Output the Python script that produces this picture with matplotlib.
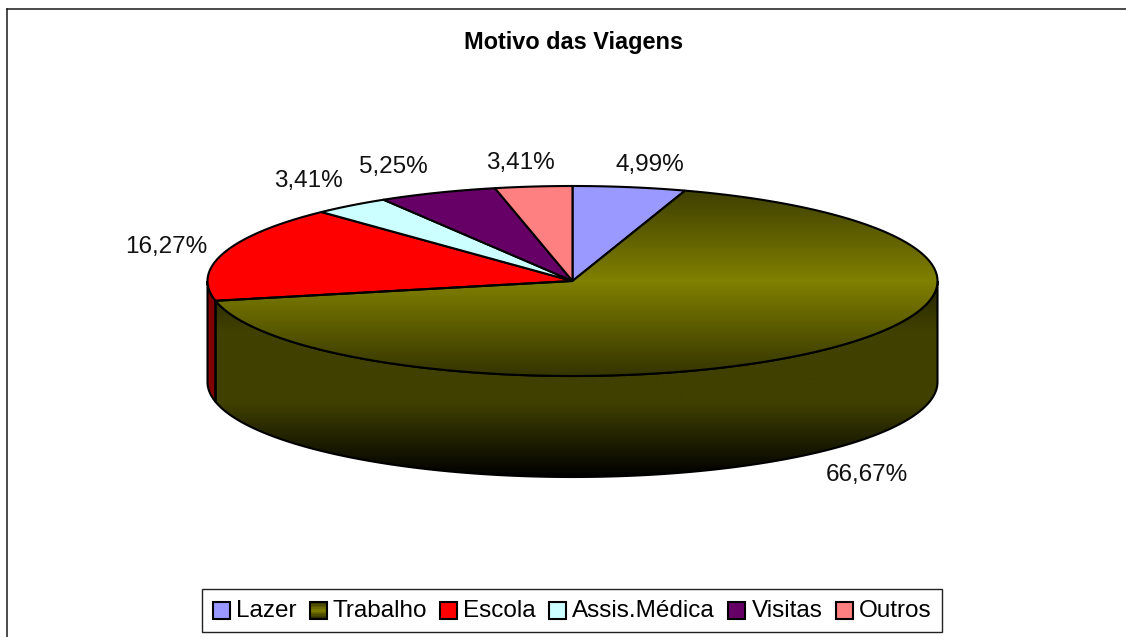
import numpy as np
import matplotlib
matplotlib.use("Agg")
import matplotlib.pyplot as plt
from matplotlib.colors import LinearSegmentedColormap, to_rgb
from matplotlib.patches import Polygon, Rectangle, Patch
from matplotlib.legend_handler import HandlerBase

plt.rcParams['font.family'] = ['Liberation Sans', 'DejaVu Sans']

title = "Motivo das Viagens"
categories = ["Lazer", "Trabalho", "Escola", "Assis.Médica", "Visitas", "Outros"]
values = [4.99, 66.67, 16.27, 3.41, 5.25, 3.41]
value_labels = ["4,99%", "66,67%", "16,27%", "3,41%", "5,25%", "3,41%"]
colors = ["#9999FF", "#808000", "#FF0000", "#CCFFFF", "#660066", "#FF8080"]
side_colors = {2: "#800000"}
label_pos = [(650, 164.5), (867, 475), (166, 246.5), (308, 181.5), (393, 167), (520, 162.5)]

W, H = 1126, 637
CX, CY, RX, RY, DEPTH = 572.5, 281, 365, 95, 101
LINE = 1.5

fig = plt.figure(figsize=(W / 100, H / 100), dpi=100, facecolor="white")
L, T = 7.5, 8.5
ax = fig.add_axes([L / W, 0, (W - L) / W, (H - T) / H])
ax.set_xlim(L, W)
ax.set_ylim(H, T)
ax.set_xticks([])
ax.set_yticks([])
for s in ("right", "bottom"):
    ax.spines[s].set_visible(False)
for s in ("top", "left"):
    ax.spines[s].set_linewidth(1.1)
    ax.spines[s].set_color("#1a1a1a")


def arc(a0, a1, n=240, dy=0):
    t = np.radians(np.linspace(a0, a1, n))
    return np.column_stack([CX + RX * np.sin(t), CY + dy - RY * np.cos(t)])


top_cmap = LinearSegmentedColormap.from_list(
    "top", [(0, "#3c3c00"), (0.5, "#808000"), (1, "#343400")])
side_cmap = LinearSegmentedColormap.from_list(
    "side", [(0, "#242400"), (0.25, "#404000"), (0.62, "#404000"), (1, "#000000")])


def shade(poly, cmap, y0, y1, x0=L, x1=W):
    grad = np.linspace(0, 1, 256).reshape(-1, 1)
    im = ax.imshow(grad, cmap=cmap, extent=(x0, x1, y1, y0), aspect="auto",
                   interpolation="bilinear", zorder=poly.get_zorder())
    im.set_clip_path(poly)


edges = np.cumsum([0] + values) * 3.6

# side walls (only the front half of the disc is visible)
for i, (a0, a1) in enumerate(zip(edges[:-1], edges[1:])):
    lo, hi = max(a0, 90), min(a1, 270)
    if lo >= hi:
        continue
    pts = np.vstack([arc(lo, hi), arc(hi, lo, dy=DEPTH)])
    if i == 1:
        clip = Polygon(pts, closed=True, transform=ax.transData, fc="none", ec="none", zorder=2)
        ax.add_patch(clip)
        shade(clip, side_cmap, CY, CY + RY + DEPTH)
        ax.add_patch(Polygon(pts, closed=True, fc="none", ec="black", lw=LINE, zorder=2.1))
    else:
        ax.add_patch(Polygon(pts, closed=True, fc=side_colors.get(i, colors[i]),
                             ec="black", lw=LINE, zorder=2))

# top faces
for i, (a0, a1) in enumerate(zip(edges[:-1], edges[1:])):
    pts = np.vstack([[(CX, CY)], arc(a0, a1)])
    if i == 1:
        clip = Polygon(pts, closed=True, transform=ax.transData, fc="none", ec="none", zorder=3)
        ax.add_patch(clip)
        shade(clip, top_cmap, CY - RY, CY + RY)
        ax.add_patch(Polygon(pts, closed=True, fc="none", ec="black", lw=LINE, zorder=3.1))
    else:
        ax.add_patch(Polygon(pts, closed=True, fc=colors[i], ec="black", lw=LINE, zorder=3))

ax.set_xlim(L, W)
ax.set_ylim(H, T)

for (x, y), s in zip(label_pos, value_labels):
    ax.text(x, y, s, ha="center", va="center", fontsize=17.5, color="#111111", zorder=5)

ax.text(574, 43, title, ha="center", va="center", fontsize=16.9, fontweight="bold",
        color="black", zorder=5)


class Swatch(HandlerBase):
    def create_artists(self, legend, orig, xd, yd, width, height, fontsize, trans):
        x, y = -xd, -yd - 1.5
        arts = []
        if orig.get_label() == "Trabalho":
            n = 12
            mix = np.abs(np.linspace(-1, 1, n))
            c0, c1 = np.array(to_rgb("#808000")), np.array(to_rgb("#303000"))
            for k in range(n):
                arts.append(Rectangle((x, y + height * (1 - (k + 1) / n)), width, height / n,
                                      fc=c0 + (c1 - c0) * mix[k], ec="none", transform=trans))
            arts.append(Rectangle((x, y), width, height, fc="none", ec="black", lw=LINE, transform=trans))
        else:
            arts.append(Rectangle((x, y), width, height, fc=orig.get_facecolor(), ec="black",
                                  lw=LINE, transform=trans))
        return arts


handles = [Patch(facecolor=c, label=n) for c, n in zip(colors, categories)]
leg = ax.legend(handles=handles, loc="center", bbox_to_anchor=(202, 588, 740, 45),
                bbox_transform=ax.transData, mode="expand", ncol=6, fontsize=17.5,
                fancybox=False, framealpha=1, edgecolor="#222222", facecolor="white",
                handler_map={Patch: Swatch()}, handlelength=0.7, handleheight=0.7,
                handletextpad=0.25, columnspacing=0.3, borderpad=0.44, borderaxespad=0)
leg.get_frame().set_linewidth(1.0)
leg.set_zorder(6)

fig.savefig("out.png", dpi=100)
